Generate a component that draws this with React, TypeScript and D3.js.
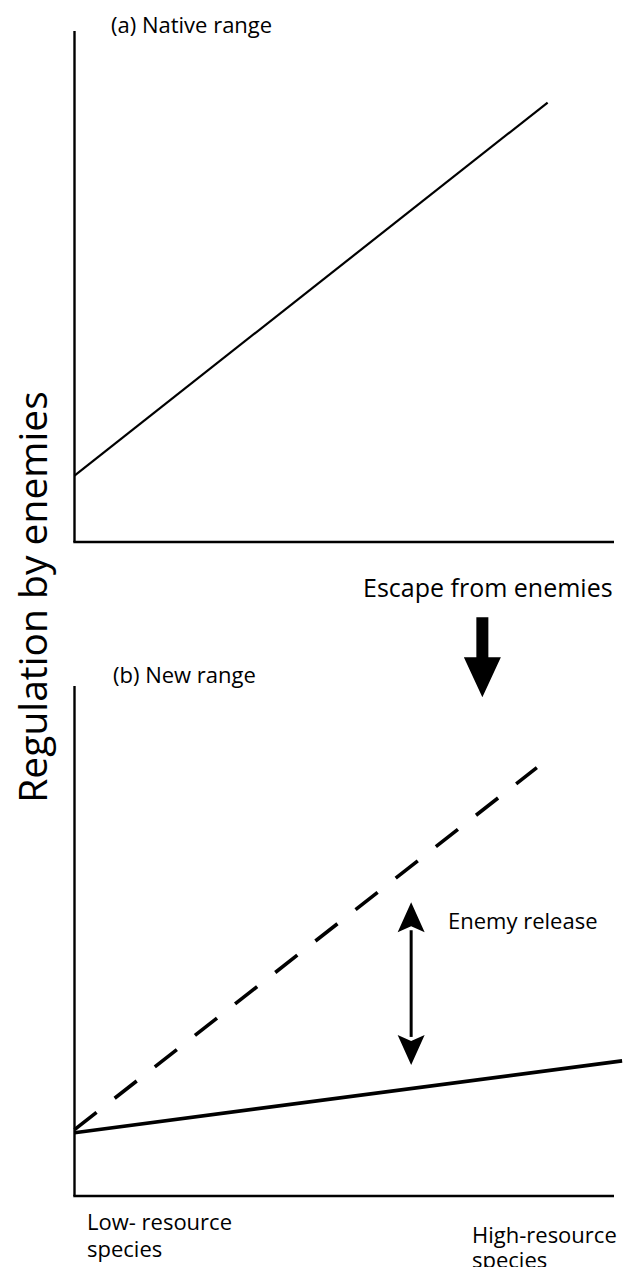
import React from "react";
import * as d3 from "d3";

type Pt = { x: number; y: number };

// conceptual units: x = resource level of the species (0..1), y = regulation by enemies (0..1)
const nativeRange: Pt[] = [
    { x: 0, y: 0.13 },
    { x: 0.877, y: 0.86 },
];
const newRangeBefore: Pt[] = [
    { x: 0, y: 0.13 },
    { x: 0.857, y: 0.84 },
];
const newRangeAfter: Pt[] = [
    { x: 0, y: 0.124 },
    { x: 1.015, y: 0.265 },
];
const releaseArrow = { x: 0.624, from: 0.257, to: 0.576 };
const escapeArrow = { x: 0.756, top: 1.135, tip: 0.978 };

const panelTitles = ["(a) Native range", "(b) New range"];
const lowLabel = ["Low- resource", "species"];
const highLabel = ["High-resource", "species"];
const yLabel = "Regulation by enemies";
const escapeLabel = "Escape from enemies";
const releaseLabel = "Enemy release";

const W = 623;
const H = 1267;
const font = "'Open Sans', sans-serif";

export default function App() {
    const x = d3.scaleLinear().domain([0, 1]).range([74.5, 614]);
    const yA = d3.scaleLinear().domain([0, 1]).range([542, 31]);
    const yB = d3.scaleLinear().domain([0, 1]).range([1196, 686]);

    const line = (ys: d3.ScaleLinear<number, number>) =>
        d3
            .line<Pt>()
            .x((d) => x(d.x))
            .y((d) => ys(d.y));

    // double headed arrow for enemy release
    const rx = x(releaseArrow.x);
    const rTop = yB(releaseArrow.to);
    const rBot = yB(releaseArrow.from);
    const hl = 30;
    const hw = 13.5;

    // thick arrow for escape from enemies
    const ex = x(escapeArrow.x);
    const eTop = yB(escapeArrow.top);
    const eTip = yB(escapeArrow.tip);
    const eHead = 40;
    const eShaft = 6;
    const eHw = 18.5;

    const axes = (ys: d3.ScaleLinear<number, number>) => (
        <g stroke="#000" strokeWidth={2.4} fill="none">
            <line x1={x(0)} x2={x(0)} y1={ys(1)} y2={ys(0)} />
            <line x1={x(0) - 1.2} x2={x(1)} y1={ys(0)} y2={ys(0)} />
        </g>
    );

    return (
        <div style={{ position: "absolute", left: 0, top: 0 }}>
            <svg width={W} height={H} fontFamily={font}>
                <rect width={W} height={H} fill="#fff" />

                {/* (a) native range */}
                {axes(yA)}
                <text x={111} y={33} fontSize={22}>
                    {panelTitles[0]}
                </text>
                <path
                    d={line(yA)(nativeRange) ?? ""}
                    fill="none"
                    stroke="#000"
                    strokeWidth={2.2}
                />

                {/* escape arrow */}
                <text x={363} y={597} fontSize={25}>
                    {escapeLabel}
                </text>
                <path
                    d={`M${ex - eShaft},${eTop} L${ex + eShaft},${eTop} L${ex + eShaft},${eTip - eHead} L${ex + eHw},${eTip - eHead} L${ex},${eTip} L${ex - eHw},${eTip - eHead} L${ex - eShaft},${eTip - eHead} Z`}
                    fill="#000"
                />

                {/* (b) new range */}
                {axes(yB)}
                <text x={113} y={683} fontSize={22}>
                    {panelTitles[1]}
                </text>
                <path
                    d={line(yB)(newRangeBefore) ?? ""}
                    fill="none"
                    stroke="#000"
                    strokeWidth={3.6}
                    strokeDasharray="28 23"
                />
                <path
                    d={line(yB)(newRangeAfter) ?? ""}
                    fill="none"
                    stroke="#000"
                    strokeWidth={3.6}
                />

                {/* enemy release */}
                <line
                    x1={rx}
                    x2={rx}
                    y1={rTop + hl - 2}
                    y2={rBot - hl + 2}
                    stroke="#000"
                    strokeWidth={3}
                />
                <path
                    d={`M${rx},${rTop} L${rx + hw},${rTop + hl} L${rx},${rTop + hl - 6} L${rx - hw},${rTop + hl} Z`}
                    fill="#000"
                />
                <path
                    d={`M${rx},${rBot} L${rx + hw},${rBot - hl} L${rx},${rBot - hl + 6} L${rx - hw},${rBot - hl} Z`}
                    fill="#000"
                />
                <text x={448} y={929} fontSize={22}>
                    {releaseLabel}
                </text>

                {/* axis labels */}
                <text
                    transform="translate(47,597) rotate(-90)"
                    textAnchor="middle"
                    fontSize={39}
                >
                    {yLabel}
                </text>
                <text x={87} y={1230} fontSize={22}>
                    <tspan x={87}>{lowLabel[0]}</tspan>
                    <tspan x={87} dy={27}>
                        {lowLabel[1]}
                    </tspan>
                </text>
                <text x={472} y={1243} fontSize={22}>
                    <tspan x={472}>{highLabel[0]}</tspan>
                    <tspan x={472} dy={25}>
                        {highLabel[1]}
                    </tspan>
                </text>
            </svg>
        </div>
    );
}
